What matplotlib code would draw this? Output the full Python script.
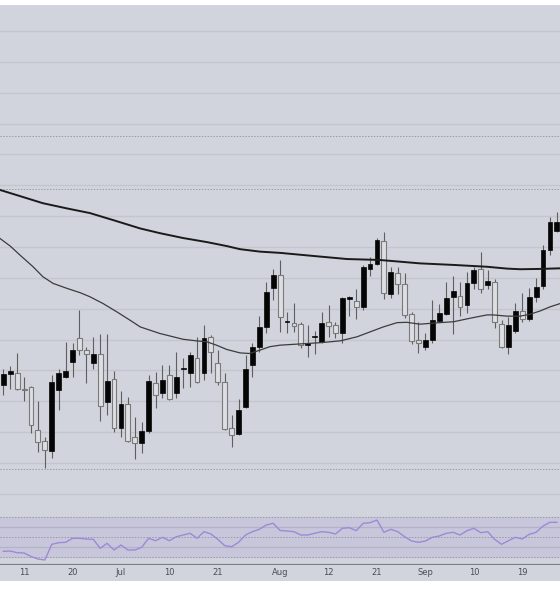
import numpy as np
import matplotlib
matplotlib.use("Agg")
import matplotlib.pyplot as plt
from matplotlib.patches import Rectangle

# daily OHLC (arbitrary price units, grid step = 10)
opens = [125.3, 128.8, 129.2, 124.0, 124.6, 110.7, 107.1, 103.9, 123.7, 127.9,
         132.7, 140.5, 136.6, 132.4, 135.3, 119.8, 127.2, 111.3, 119.1, 108.4,
         106.5, 110.4, 125.9, 122.7, 128.5, 122.7, 130.5, 129.2, 134.0, 129.2,
         140.8, 132.4, 126.2, 111.3, 109.4, 118.1, 131.8, 137.6, 144.1, 156.7,
         160.9, 145.7, 145.4, 145.0, 138.2, 140.8, 139.2, 145.7, 144.7, 142.1,
         153.1, 152.5, 150.5, 162.9, 164.5, 171.9, 154.8, 161.6, 158.0, 148.3,
         139.9, 137.6, 139.9, 146.0, 148.3, 153.8, 154.1, 151.2, 158.3, 162.9,
         157.7, 158.6, 145.0, 137.6, 142.8, 149.2, 146.7, 153.8, 157.3, 169.0,
         175.2]
highs = [130.5, 131.4, 135.6, 127.9, 124.9, 120.1, 108.4, 128.5, 130.5, 139.2,
         138.9, 149.6, 137.6, 140.8, 141.8, 141.8, 129.8, 123.3, 121.4, 114.9,
         113.3, 128.5, 129.5, 131.8, 131.8, 136.0, 134.0, 136.0, 140.8, 144.7,
         141.5, 136.6, 129.2, 115.6, 120.7, 135.0, 138.9, 147.6, 158.6, 162.9,
         165.8, 148.9, 151.8, 145.7, 144.7, 142.8, 148.9, 151.2, 145.7, 153.8,
         154.1, 156.4, 164.2, 166.7, 172.9, 174.8, 163.5, 163.5, 161.6, 148.9,
         145.7, 142.1, 152.8, 151.5, 158.6, 160.6, 158.6, 161.9, 163.5, 168.4,
         162.5, 159.6, 146.3, 147.3, 151.8, 155.1, 156.7, 159.9, 170.6, 179.7,
         181.3]
lows = [122.0, 124.0, 123.7, 120.1, 109.7, 103.6, 98.4, 101.6, 117.2, 127.6,
        127.9, 135.0, 125.9, 130.5, 113.6, 115.6, 110.0, 108.4, 106.8, 101.3,
        103.2, 109.7, 117.8, 121.1, 120.4, 121.1, 124.3, 124.6, 125.9, 126.9,
        129.2, 125.3, 110.7, 105.2, 109.1, 117.8, 127.9, 136.0, 142.1, 152.8,
        142.4, 142.1, 142.4, 137.3, 134.3, 135.3, 138.9, 140.8, 140.5, 138.9,
        147.6, 146.7, 149.6, 160.6, 164.2, 153.1, 153.5, 154.8, 147.0, 138.6,
        135.6, 136.6, 138.9, 145.7, 148.0, 141.8, 147.6, 148.6, 156.4, 155.1,
        156.4, 143.7, 137.3, 135.3, 142.1, 145.7, 146.0, 152.2, 156.4, 167.4,
        174.8]
closes = [128.8, 129.8, 124.0, 123.7, 112.3, 106.8, 104.2, 126.2, 129.2, 129.8,
          136.6, 136.6, 135.3, 135.3, 118.5, 126.6, 111.3, 119.1, 107.1, 106.5,
          110.4, 126.6, 122.0, 126.9, 120.7, 127.9, 130.8, 135.0, 126.2, 140.5,
          136.0, 126.2, 111.0, 109.1, 117.2, 130.5, 137.6, 144.1, 155.4, 160.9,
          147.3, 146.0, 144.4, 138.2, 138.9, 141.1, 145.4, 144.4, 142.1, 153.5,
          153.8, 150.5, 163.5, 164.5, 172.3, 155.1, 161.9, 158.0, 148.0, 139.5,
          138.9, 139.9, 146.3, 148.6, 153.5, 155.7, 150.5, 158.3, 162.5, 156.4,
          159.0, 145.7, 137.6, 144.7, 149.2, 146.7, 153.8, 157.0, 169.0, 178.1,
          178.1]

# moving averages, read at candle positions along the lines
ma_slow_x = [-0.5, 2.4, 5.7, 9.2, 12.5, 15.9, 19.8, 22.6, 26.0, 29.4, 32.3,
             34.2, 37.1, 40.0, 44.8, 49.7, 54.4, 60.2, 65.0, 69.9, 72.8, 74.7,
             77.6, 80.5]
ma_slow = [188.5, 186.5, 184.2, 182.5, 181.0, 178.7, 176.0, 174.5, 172.9,
           171.6, 170.3, 169.3, 168.5, 168.1, 167.1, 166.1, 165.8, 164.7, 164.2,
           163.6, 163.0, 162.8, 162.9, 163.1]
ma_fast_x = [-0.5, 1.0, 2.4, 4.3, 5.7, 7.2, 9.2, 11.1, 12.5, 14.4, 16.4, 18.3,
             19.8, 22.6, 26.0, 27.9, 29.4, 30.8, 32.3, 34.2, 35.6, 37.1, 38.5,
             40.0, 42.9, 45.8, 48.7, 51.1, 53.0, 54.9, 56.9, 58.3, 60.2, 63.1,
             65.1, 67.4, 69.9, 70.8, 72.8, 74.7, 76.1, 77.6, 79.0, 80.5]
ma_fast = [172.8, 170.3, 167.4, 163.6, 160.4, 158.2, 156.6, 155.2, 153.9,
           151.7, 149.0, 146.3, 144.1, 142.0, 140.1, 139.6, 139.3, 138.2, 136.8,
           135.7, 135.5, 136.6, 137.7, 138.2, 138.6, 139.0, 139.6, 140.9, 142.5,
           144.1, 145.5, 145.6, 145.0, 145.5, 145.8, 146.9, 148.0, 148.0, 147.6,
           147.6, 148.2, 149.3, 150.6, 151.7]

levels = [205.9, 188.8, 98.1]

rsi = [35.7, 36.0, 34.3, 34.0, 30.5, 28.0, 27.0, 42.7, 44.3, 44.7,
       48.7, 48.7, 48.0, 47.7, 38.7, 43.7, 37.0, 42.0, 37.0, 37.0,
       39.7, 48.7, 46.3, 49.7, 46.3, 50.3, 52.0, 53.7, 48.7, 55.3,
       53.0, 47.7, 41.3, 40.3, 44.7, 52.0, 55.3, 57.7, 62.0, 63.7,
       56.5, 56.0, 55.3, 52.0, 52.0, 53.7, 55.3, 54.7, 53.0, 58.7,
       59.3, 56.3, 63.7, 64.3, 67.0, 54.7, 57.7, 55.3, 50.3, 46.0,
       44.7, 46.0, 49.7, 51.0, 53.7, 54.7, 52.0, 56.3, 58.7, 54.3,
       55.3, 47.7, 42.7, 46.3, 49.7, 48.0, 52.7, 54.7, 61.0, 64.7,
       64.7]

tick_idx = [3, 10, 17, 24, 31, 40, 47, 54, 61, 68, 75]
tick_labels = ["11", "20", "Jul", "10", "21", "Aug", "12", "21", "Sep", "10", "19"]

BG = "#d1d4dc"
GRID = "#c3c6ce"

fig = plt.figure(figsize=(5.6, 6), dpi=100)
fig.patch.set_facecolor("white")
fig.add_artist(Rectangle((0, 19 / 600), 1, 576 / 600, transform=fig.transFigure,
                         facecolor=BG, edgecolor="none", zorder=0))

ax = fig.add_axes([0, 90 / 600, 1, 505 / 600])
rx = fig.add_axes([0, 35 / 600, 1, 55 / 600], sharex=ax)
for a in (ax, rx):
    a.set_facecolor(BG)
    for s in a.spines.values():
        s.set_visible(False)

x = np.arange(len(opens))
o, h, l, c = map(np.array, (opens, highs, lows, closes))
up = c >= o

# grid + level lines
for g in range(90, 250, 10):
    ax.axhline(g, color=GRID, lw=1.0, zorder=1)
for lv in levels:
    ax.axhline(lv, color="#9a9da6", lw=0.7, ls=(0, (1.5, 1.5)), zorder=1)

ax.vlines(x, l, h, color="#5f5f5f", lw=0.8, zorder=2)
ax.bar(x[up], (c - o)[up], bottom=o[up], width=0.7, color="#050505",
       edgecolor="#050505", lw=0.5, zorder=3)
ax.bar(x[~up], np.maximum((o - c)[~up], 0.25), bottom=c[~up], width=0.7,
       color="#dcdee4", edgecolor="#7a7a7a", lw=0.8, zorder=3)

ax.plot(ma_slow_x, ma_slow, color="#1a1a1a", lw=1.4, zorder=4)
ax.plot(ma_fast_x, ma_fast, color="#3c3c3c", lw=0.9, zorder=4)

ax.set_ylim(84.8, 248.4)
ax.set_xlim(-0.48, 80.45)
ax.tick_params(left=False, labelleft=False, bottom=False, labelbottom=False)

# RSI pane
rx.axhspan(30, 70, color="#c8c6da", zorder=0)
for g in (40, 60):
    rx.axhline(g, color="#b4b2c6", lw=0.9, zorder=1)
for g in (30, 50, 70):
    rx.axhline(g, color="#9a9aa8", lw=0.7, ls=(0, (1.5, 1.5)), zorder=1)
rx.plot(x, rsi, color="#9d89d8", lw=1.0, zorder=3)
rx.axhline(22, color="#7d8089", lw=1.6, zorder=4)
rx.set_ylim(22, 77)
rx.tick_params(left=False, labelleft=False, bottom=False, length=0, pad=2.5,
               labelsize=6, labelcolor="#4a4d55")
rx.set_xticks(tick_idx)
rx.set_xticklabels(tick_labels)

fig.savefig("out.png", dpi=100, facecolor="white")
